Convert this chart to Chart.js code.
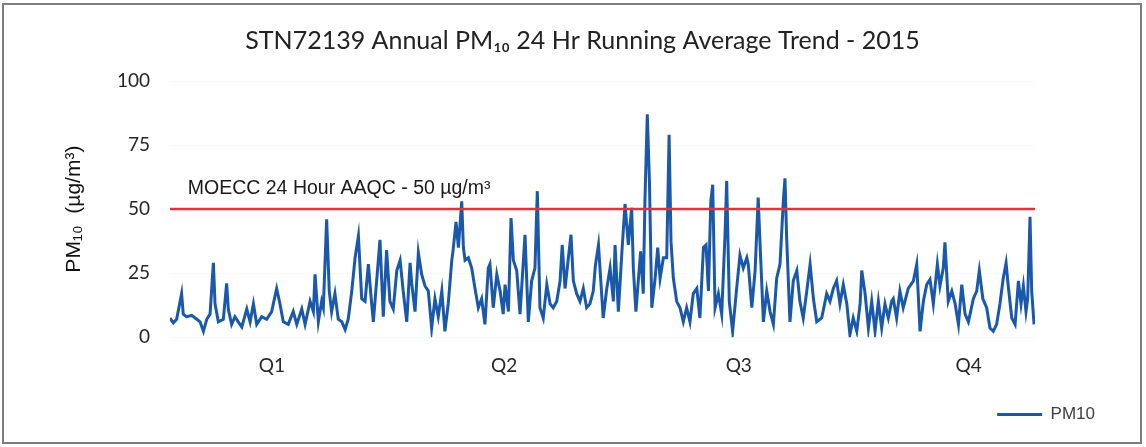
<!DOCTYPE html>
<html>
<head>
<meta charset="utf-8">
<script src="https://cdn.jsdelivr.net/npm/chart.js@4.4.1/dist/chart.umd.min.js"></script>
<style>
html, body { margin: 0; padding: 0; background: #fff; }
#wrap { position: relative; width: 1146px; height: 447px; }
#frame { position: absolute; left: 2px; top: 3px; width: 1140px; height: 441px; box-sizing: border-box; border: 2px solid #7d7d7d; pointer-events: none; }
</style>
</head>
<body>
<div id="wrap">
	<canvas id="trend" width="1146" height="447"></canvas>
	<div id="frame"></div>
</div>
<script>
// day of year for each reading, and the 24 hr running average
const days = [
	0, 1.4, 2.8, 4.9, 5.6, 7.0, 9.2, 11.3, 12.7, 14.1,
	15.5, 16.9, 18.3, 19.0, 20.4, 22.5, 23.9, 24.6, 26.0, 27.4,
	28.8, 30.3, 32.4, 33.8, 35.2, 36.6, 38.7, 40.8, 42.9, 45.0,
	46.4, 47.8, 49.9, 52.0, 53.5, 55.6, 57.0, 59.1,
	60.5, 61.2, 62.6, 64.0, 64.7, 66.1, 67.2, 68.2, 69.6, 71.0,
	72.5, 73.9, 75.2, 76.7, 78.1, 79.5, 80.9, 82.3, 83.7, 85.1,
	85.8, 87.2, 88.6, 90.0, 91.4, 92.8, 94.2, 95.7, 97.1, 98.4,
	99.9, 101.3, 102.0, 103.4, 104.8, 106.2, 107.6, 109.0, 110.4, 111.8,
	113.2, 114.7, 116.0, 117.4, 118.9, 119.4,
	120.7, 121.7, 123.1, 123.8, 124.5, 125.9, 127.3, 128.7, 130.1, 131.5,
	132.9, 134.3, 135.0, 136.4, 137.9, 139.3, 140.6, 141.4, 142.8, 143.9,
	144.9, 146.3, 147.7, 149.8, 151.2, 152.6, 154.0, 155.0, 156.1, 157.5,
	159.0, 160.4, 161.7, 163.2, 164.6, 165.5, 166.7, 168.1, 169.2, 170.2,
	171.6, 173.0, 174.4, 175.8, 177.2, 178.6, 179.5, 180.8,
	182.8, 184.3, 185.7, 187.1, 187.8, 189.2, 190.6, 192.0, 193.4, 194.8,
	195.5, 196.6, 197.6, 198.6, 199.7, 200.4, 201.4, 202.3, 203.3, 204.7,
	205.8, 206.8, 208.2, 209.6, 210.6, 211.4, 212.4, 213.8, 215.2, 216.6,
	218.0, 219.4, 220.8, 222.3, 223.6, 225.1, 226.2, 227.2, 228.2, 229.0,
	230.0, 231.4, 232.8, 234.2, 234.9, 236.0, 237.4, 239.1, 240.5, 241.9,
	243.4,
	244.0, 245.5, 246.9, 248.2, 249.0, 250.4, 251.8, 253.2, 254.6, 256.0,
	257.4, 258.8, 259.5, 260.2, 261.6, 263.0, 264.5, 265.8, 267.2, 268.7,
	270.1, 271.5, 272.9, 275.0, 277.1, 278.5, 279.9, 281.3, 282.7, 284.1,
	285.6, 286.9, 288.3, 289.8, 291.2, 291.9, 293.3, 294.7, 296.1, 297.5,
	298.9, 300.3, 301.7, 303.1, 304.5,
	305.2, 306.6, 308.0, 309.4, 311.5, 313.7, 315.1, 316.5, 317.9, 319.3,
	320.7, 322.1, 323.8, 324.9, 326.3, 327.0, 328.4, 329.9, 331.3, 332.7,
	334.1, 335.5, 336.9, 339.0, 340.4, 341.5, 343.0, 344.6, 346.0, 347.4,
	348.8, 350.2, 351.6, 352.8, 353.7, 355.2, 356.6, 358.0, 359.1, 360.1,
	361.2, 361.9, 362.9, 363.6, 364.6
];
const pm10 = [
	7.5, 5.6, 7, 17, 9, 8, 8.5, 7, 6, 2.3,
	7, 9, 29, 13, 6, 7, 21, 11, 5, 8,
	6, 4, 11, 6, 13, 5, 8, 7, 10, 19,
	13, 6, 5, 10, 5, 11, 5, 14,
	10, 24.5, 6, 14, 11.5, 46, 18, 10, 17, 7,
	6, 3, 7, 18, 31, 39.5, 15, 14, 28.5, 13,
	6, 22, 38, 8, 34, 14, 11, 26, 30, 18,
	6, 29, 21, 10, 33, 24.5, 20, 18, 3.5, 15,
	8, 18, 2.3, 13, 30, 33.5,
	45, 35, 53, 35, 30, 31, 27, 19, 11.5, 15,
	5, 27, 28.5, 11.5, 24.5, 18, 9, 20.5, 10, 46.5,
	30, 26, 9, 40, 6, 22, 27, 57, 11.5, 7.5,
	20.5, 13, 11.5, 14, 22, 36, 19, 31, 40, 22,
	17, 14, 19, 11.5, 13, 18, 28, 36,
	7.5, 19, 27, 14, 36, 10, 32, 52, 36, 50.5,
	27, 10, 22, 33.5, 17, 53, 87, 61, 11.5, 23,
	35, 23, 31, 31, 79, 37.5, 23, 14, 11.5, 6,
	11.5, 6, 17, 19, 7.5, 35, 36, 18, 53, 59.5,
	11.5, 17, 9, 40, 61, 14, 2.3, 19, 32, 27,
	31,
	28.5, 11.5, 26, 54.5, 36, 6, 18, 10, 5, 23,
	28.5, 53, 62, 39, 6, 22, 26, 14, 7.5, 18,
	28.5, 15, 6, 7.5, 17, 14, 19, 22, 13, 20.5,
	13, 1, 7.5, 2.3, 13, 26, 17, 3.6, 14, 2.3,
	14, 3.6, 13, 7.5, 14,
	15, 7.5, 18, 11.5, 19, 22, 28.5, 2.3, 14, 20.5,
	22.5, 13, 28.5, 20, 27, 37, 14, 18, 13, 5,
	20.5, 9, 6, 15, 18, 26, 15, 11.5, 3.6, 2.3,
	5, 13, 23, 29, 20, 7.5, 5, 22, 13, 20,
	10, 15, 47, 18, 5
];

const quarterDays = [43, 141, 240, 337];
const quarterLabels = ['Q1', 'Q2', 'Q3', 'Q4'];
const yTicks = [0, 25, 50, 75, 100];

const aaqcLimit = 50;
const aaqcLabel = 'MOECC 24 Hour AAQC - 50 µg/m³';

const calibriLike = 'Lato, "Noto Sans", sans-serif';
const arialLike = '"Liberation Sans", Arial, sans-serif';

// text above the red limit line
const limitLabel = {
	id: 'limitLabel',
	afterDatasetsDraw(chart) {
		const { ctx, scales: { x, y } } = chart;
		ctx.save();
		ctx.font = '19.5px ' + arialLike;
		ctx.fillStyle = '#1a1a1a';
		ctx.textBaseline = 'middle';
		ctx.fillText(aaqcLabel, x.getPixelForValue(7.5), y.getPixelForValue(aaqcLimit) - 20);
		ctx.restore();
	}
};

new Chart(document.getElementById('trend'), {
	type: 'line',
	data: {
		datasets: [
			{
				label: 'PM10',
				data: days.map((d, i) => ({ x: d, y: pm10[i] })),
				borderColor: '#1a58ab',
				backgroundColor: '#1a58ab',
				borderWidth: 3,
				pointRadius: 0,
				tension: 0,
				order: 1
			},
			{
				label: 'AAQC',
				data: [{ x: 0, y: aaqcLimit }, { x: 365, y: aaqcLimit }],
				borderColor: '#e2333d',
				borderWidth: 2.5,
				pointRadius: 0,
				order: 0
			}
		]
	},
	options: {
		responsive: false,
		animation: false,
		layout: { padding: { left: 58, right: 39, top: 26, bottom: 14 } },
		plugins: {
			title: {
				display: true,
				text: 'STN72139 Annual PM₁₀ 24 Hr Running Average Trend - 2015',
				font: { family: calibriLike, size: 25, weight: 'normal' },
				color: '#222',
				padding: { top: 0, bottom: 25 }
			},
			legend: {
				position: 'bottom',
				align: 'end',
				labels: {
					filter: item => item.text === 'PM10',
					usePointStyle: true,
					pointStyle: 'line',
					pointStyleWidth: 45,
					padding: 12,
					color: '#404040',
					font: { family: arialLike, size: 17 }
				}
			},
			tooltip: { enabled: false }
		},
		scales: {
			x: {
				type: 'linear',
				min: 0,
				max: 365,
				afterBuildTicks: scale => { scale.ticks = quarterDays.map(v => ({ value: v })); },
				ticks: {
					callback: v => quarterLabels[quarterDays.indexOf(v)],
					font: { family: calibriLike, size: 19 },
					color: '#262626',
					padding: 17,
					maxRotation: 0
				},
				grid: { display: false, drawTicks: false },
				border: { display: false }
			},
			y: {
				min: 0,
				max: 100,
				afterBuildTicks: scale => { scale.ticks = yTicks.map(v => ({ value: v })); },
				afterFit: scale => { scale.width = 112; },
				ticks: {
					font: { family: calibriLike, size: 19 },
					color: '#262626',
					padding: 20
				},
				grid: { color: '#f8f8f8', drawTicks: false },
				border: { display: false },
				title: {
					display: true,
					text: 'PM₁₀  (µg/m³)',
					font: { family: arialLike, size: 21 },
					color: '#111',
					padding: { top: 4, bottom: 0 }
				}
			},
			// empty axis, only keeps the plot clear of the right margin
			yRight: {
				position: 'right',
				afterFit: scale => { scale.width = 72; },
				ticks: { display: false },
				grid: { display: false, drawTicks: false },
				border: { display: false }
			}
		}
	},
	plugins: [limitLabel]
});
</script>
</body>
</html>
